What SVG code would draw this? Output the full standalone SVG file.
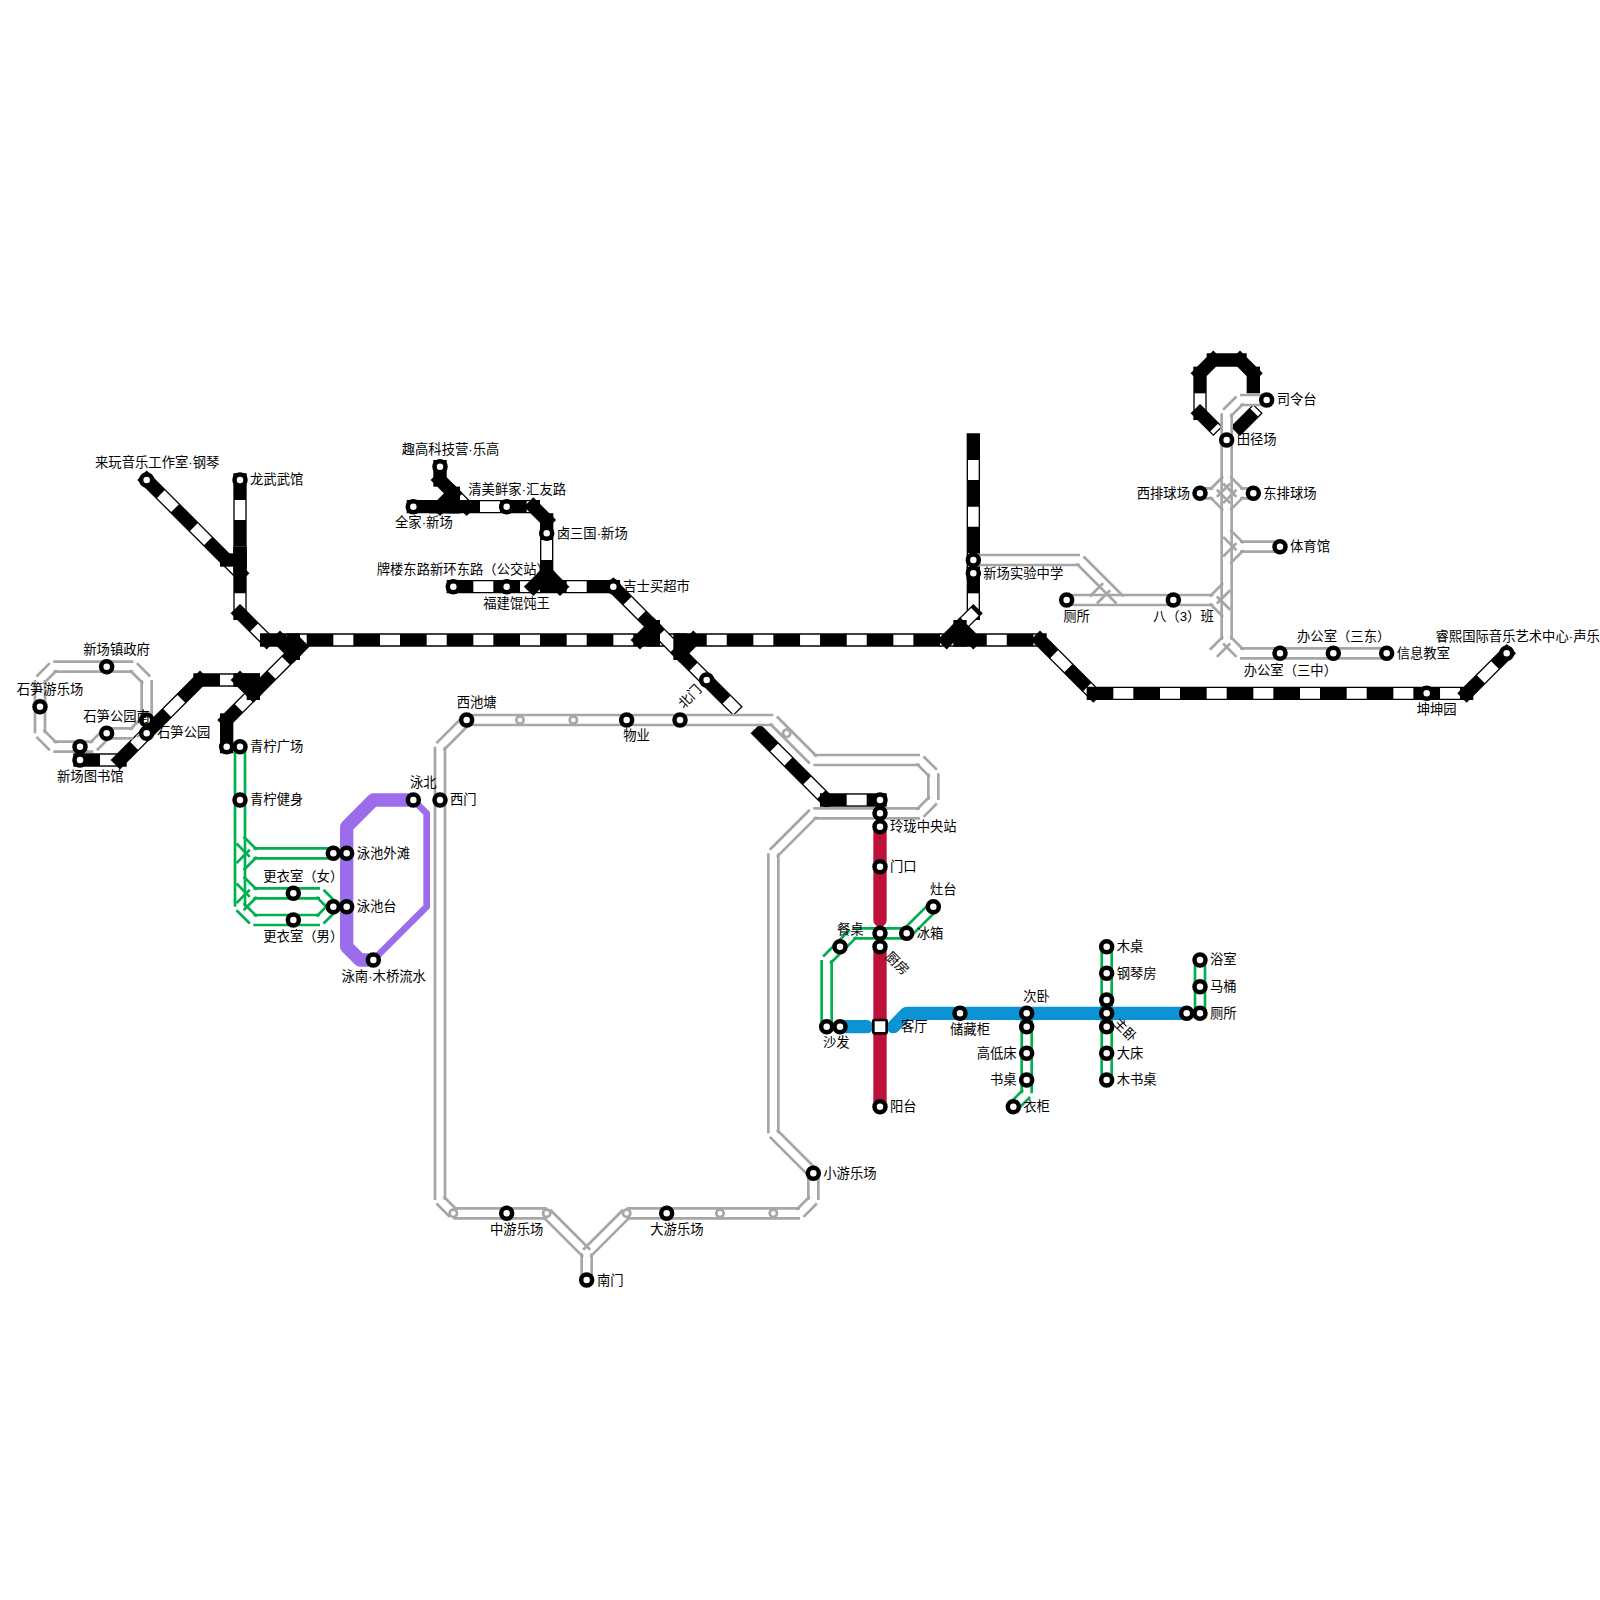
<svg xmlns="http://www.w3.org/2000/svg" width="1600" height="1600" viewBox="0 0 1600 1600">
<style>
path{fill:none}
.b{stroke:#000;stroke-width:13.33;stroke-linecap:square}
.w{stroke:#fff;stroke-width:10.67;stroke-dasharray:20 26.67;stroke-dashoffset:26.67}
.gy{stroke:#a6a6a6;stroke-width:2.67}
.gr{stroke:#00b050;stroke-width:2.67}
.th{stroke-width:13.33;stroke-linecap:round;stroke-linejoin:round}
circle{fill:#fff;stroke:#000;stroke-width:4.5}
.d{stroke:#a6a6a6;stroke-width:2.67}
.box{fill:#fff;stroke:#000;stroke-width:2.67}
text{font-family:"Liberation Sans","Noto Sans CJK SC",sans-serif;font-size:13.33px;fill:#000}
.m{text-anchor:middle}
</style>
<defs>
<g id="gH"><path d="M466.67 720H773.33M813.33 760H920M813.33 813.33H920M626.67 1213.33H800M453.33 1213.33H546.67M973.33 560H1080M1066.67 600H1213.33M1240 400H1266.67M1240 653.33H1386.67M1200 493.33H1213.33M1240 493.33H1253.33M1240 546.67H1280M53.33 666.67H133.33M106.67 733.33H133.33M53.33 746.67H93.33"/></g>
<g id="gV"><path d="M933.33 773.33V800M773.33 853.33V1133.33M813.33 1173.33V1200M586.67 1253.33V1280M440 746.67V1200M1226.67 413.33V640M146.67 680V720M40 680V733.33"/></g>
<g id="gD"><path d="M773.33 720L813.33 760M920 760L933.33 773.33M773.33 1133.33L813.33 1173.33M546.67 1213.33L586.67 1253.33M440 1200L453.33 1213.33M1080 560L1120 600M1213.33 600L1226.67 613.33M1226.67 640L1240 653.33M1213.33 493.33L1226.67 506.67M1226.67 480L1240 493.33M1226.67 533.33L1240 546.67M133.33 666.67L146.67 680M40 733.33L53.33 746.67"/></g>
<g id="gU"><path d="M920 813.33L933.33 800M773.33 853.33L813.33 813.33M800 1213.33L813.33 1200M586.67 1253.33L626.67 1213.33M440 746.67L466.67 720M1093.33 600L1106.67 586.67M1213.33 600L1226.67 586.67M1226.67 413.33L1240 400M1213.33 653.33L1226.67 640M1213.33 493.33L1226.67 480M1226.67 506.67L1240 493.33M1226.67 560L1240 546.67M40 680L53.33 666.67M133.33 733.33L146.67 720M93.33 746.67L106.67 733.33"/></g>
<g id="tH"><path d="M253.33 853.33H333.33M253.33 893.33H320M253.33 920H320M853.33 933.33H906.67"/></g>
<g id="tV"><path d="M240 746.67V906.67M826.67 960V1026.67M1026.67 1013.33V1093.33M1106.67 946.67V1080M1200 960V1013.33"/></g>
<g id="tD"><path d="M240 840L253.33 853.33M240 880L253.33 893.33M240 906.67L253.33 920M320 893.33L333.33 906.67"/></g>
<g id="tU"><path d="M240 866.67L253.33 853.33M240 906.67L253.33 893.33M320 920L333.33 906.67M906.67 933.33L933.33 906.67M826.67 960L853.33 933.33M1013.33 1106.67L1026.67 1093.33"/></g>
</defs>
<rect width="1600" height="1600" fill="#fff"/>
<g id="connectors">
<g id="rail-black">
<path class="b" d="M146.67 480L240 573.33"/><path class="w" d="M146.67 480L240 573.33"/>
<path class="b" d="M240 480V613.33"/><path class="w" d="M240 480V613.33"/>
<path class="b" d="M226.67 560H240"/><path class="b" d="M240 553.33V566.67"/>
<path class="b" d="M240 613.33L266.67 640"/><path class="w" d="M240 613.33L266.67 640"/>
<path class="b" d="M266.67 640H1040"/><path class="w" d="M266.67 640H1040"/>
<path class="b" d="M300 646.67L226.67 720"/><path class="w" d="M300 646.67L226.67 720"/>
<path class="b" d="M280 640L293.33 653.33"/><path class="b" d="M293.33 640V653.33"/>
<path class="b" d="M226.67 720V746.67"/>
<path class="b" d="M200 680H240"/><path class="w" d="M200 680H240"/>
<path class="b" d="M240 680L253.33 693.33"/><path class="b" d="M240 680H253.33"/><path class="b" d="M253.33 680V693.33"/>
<path class="b" d="M80 760H120"/><path class="w" d="M80 760H120"/>
<path class="b" d="M120 760L200 680"/><path class="w" d="M120 760L200 680"/>
<path class="b" d="M440 466.67V480"/>
<path class="b" d="M440 480L466.67 506.67"/><path class="w" d="M440 480L466.67 506.67"/>
<path class="b" d="M413.33 506.67H533.33"/><path class="w" d="M413.33 506.67H533.33"/>
<path class="b" d="M440 506.67L453.33 493.33"/><path class="b" d="M453.33 493.33V506.67"/><path class="b" d="M436 506.67H453.33"/>
<path class="b" d="M533.33 506.67L546.67 520"/>
<path class="b" d="M546.67 520V573.33"/><path class="w" d="M546.67 520V573.33"/>
<path class="b" d="M453.33 586.67H613.33"/><path class="w" d="M453.33 586.67H613.33"/>
<path class="b" d="M546.67 573.33L533.33 586.67"/><path class="b" d="M546.67 573.33L560 586.67"/>
<path class="b" d="M613.33 586.67L733.33 706.67"/><path class="w" d="M613.33 586.67L737.1 710.44"/>
<path class="b" d="M640 640L653.33 626.67"/><path class="b" d="M653.33 626.67V640"/>
<path class="b" d="M680 640V653.33"/><path class="b" d="M680 653.33L693.33 640"/>
<path class="b" d="M973.33 440V573.33"/><path class="w" d="M973.33 440V573.33"/>
<path class="b" d="M973.33 573.33V613.33"/><path class="w" d="M973.33 573.33V618.67"/>
<path class="b" d="M946.67 640L973.33 613.33"/><path class="w" d="M946.67 640L977.1 609.56"/>
<path class="b" d="M960 626.67V640"/><path class="b" d="M960 626.67L973.33 640"/>
<path class="b" d="M1040 640L1093.33 693.33"/><path class="w" d="M1040 640L1093.33 693.33"/>
<path class="b" d="M1093.33 693.33H1466.67"/><path class="w" d="M1093.33 693.33H1466.67"/>
<path class="b" d="M1466.67 693.33L1506.67 653.33"/><path class="w" d="M1466.67 693.33L1506.67 653.33"/>
<path class="b" d="M760 733.33L826.67 800"/><path class="w" d="M760 733.33L826.67 800"/>
<path class="b" d="M826.67 800H880"/><path class="w" d="M826.67 800H880"/>
<path class="b" d="M1200 373.33V413.33"/><path class="w" d="M1200 373.33V418.67"/>
<path class="b" d="M1200 413.33L1213.33 426.67"/><path class="w" d="M1200 413.33L1217.1 430.44"/>
<path class="b" d="M1200 373.33L1213.33 360"/>
<path class="b" d="M1213.33 360H1240"/>
<path class="b" d="M1240 360L1253.33 373.33"/>
<path class="b" d="M1253.33 373.33V386.67"/>
<path class="b" d="M1240 426.67L1253.33 413.33"/><path class="w" d="M1240 426.67L1257.1 409.56"/>
</g>
<g id="line-grey" class="gy">
<use href="#gH" y="-5"/><use href="#gH" y="5"/>
<use href="#gV" x="-5"/><use href="#gV" x="5"/>
<use href="#gD" x="3.54" y="-3.54"/><use href="#gD" x="-3.54" y="3.54"/>
<use href="#gU" x="3.54" y="3.54"/><use href="#gU" x="-3.54" y="-3.54"/>
</g>
<g id="line-green" class="gr">
<use href="#tH" y="-5"/><use href="#tH" y="5"/>
<use href="#tV" x="-5"/><use href="#tV" x="5"/>
<use href="#tD" x="3.54" y="-3.54"/><use href="#tD" x="-3.54" y="3.54"/>
<use href="#tU" x="3.54" y="3.54"/><use href="#tU" x="-3.54" y="-3.54"/>
</g>
<g id="line-purple">
<path class="th" stroke="#9b6cec" d="M413.33 800H373.33L346.67 826.67V946.67L360 960H373.33"/>
<path stroke="#9b6cec" stroke-width="6.67" stroke-linejoin="round" d="M413.33 800L426.67 813.33V906.67L373.33 960"/>
</g>
<g id="line-red">
<path class="th" stroke="#bc1239" d="M880 826.67V920"/>
<path class="th" stroke="#bc1239" stroke-linecap="butt" d="M880 946.67V1106.67"/>
</g>
<g id="line-blue">
<path class="th" stroke="#0b93d6" d="M840 1026.67H866.67"/>
<path class="th" stroke="#0b93d6" d="M893.33 1026.67L906.67 1013.33H1186.67"/>
</g>
</g>
<g id="dots">
<circle class="d" cx="520" cy="720" r="3.67"/><circle class="d" cx="573.33" cy="720" r="3.67"/><circle class="d" cx="786.67" cy="733.33" r="3.67"/><circle class="d" cx="773.33" cy="1213.33" r="3.67"/><circle class="d" cx="720" cy="1213.33" r="3.67"/><circle class="d" cx="626.67" cy="1213.33" r="3.67"/><circle class="d" cx="546.67" cy="1213.33" r="3.67"/><circle class="d" cx="453.33" cy="1213.33" r="3.67"/>
</g>
<g id="n1"><circle cx="146.67" cy="480" r="5.5"/><text x="95" y="467">来玩音乐工作室·钢琴</text></g>
<g id="n2"><circle cx="240" cy="480" r="5.5"/><text x="250" y="484">龙武武馆</text></g>
<g id="n3"><circle cx="106.67" cy="666.67" r="5.5"/><text x="83.3" y="654">新场镇政府</text></g>
<g id="n4"><circle cx="40" cy="706.67" r="5.5"/><text x="16.7" y="694">石笋游乐场</text></g>
<g id="n5"><circle cx="146.67" cy="720" r="5.5"/></g>
<g id="n6"><circle cx="146.67" cy="733.33" r="5.5"/><text x="157" y="737">石笋公园</text></g>
<g id="n7"><circle cx="106.67" cy="733.33" r="5.5"/><text x="83.3" y="721">石笋公园南</text></g>
<g id="n8"><circle cx="80" cy="746.67" r="5.5"/></g>
<g id="n9"><circle cx="80" cy="760" r="5.5"/><text x="57" y="781">新场图书馆</text></g>
<g id="n10"><circle cx="226.67" cy="746.67" r="5.5"/></g>
<g id="n11"><circle cx="240" cy="746.67" r="5.5"/><text x="250" y="751">青柠广场</text></g>
<g id="n12"><circle cx="240" cy="800" r="5.5"/><text x="250" y="804">青柠健身</text></g>
<g id="n13"><circle cx="333.33" cy="853.33" r="5.5"/></g>
<g id="n14"><circle cx="346.67" cy="853.33" r="5.5"/><text x="356.7" y="857.5">泳池外滩</text></g>
<g id="n15"><circle cx="293.33" cy="893.33" r="5.5"/><text x="263.3" y="881">更衣室（女）</text></g>
<g id="n16"><circle cx="293.33" cy="920" r="5.5"/><text x="263.3" y="941">更衣室（男）</text></g>
<g id="n17"><circle cx="333.33" cy="906.67" r="5.5"/></g>
<g id="n18"><circle cx="346.67" cy="906.67" r="5.5"/><text x="356.7" y="911">泳池台</text></g>
<g id="n19"><circle cx="413.33" cy="800" r="5.5"/><text x="410" y="787">泳北</text></g>
<g id="n20"><circle cx="440" cy="800" r="5.5"/><text x="450" y="804">西门</text></g>
<g id="n21"><circle cx="373.33" cy="960" r="5.5"/><text x="341.5" y="980.5">泳南·木桥流水</text></g>
<g id="n22"><circle cx="440" cy="466.67" r="5.5"/><text x="401.7" y="454">趣高科技营·乐高</text></g>
<g id="n23"><circle cx="413.33" cy="506.67" r="5.5"/><text x="395" y="527">全家·新场</text></g>
<g id="n24"><circle cx="506.67" cy="506.67" r="5.5"/><text x="468.3" y="494">清美鲜家·汇友路</text></g>
<g id="n25"><circle cx="546.67" cy="533.33" r="5.5"/><text x="556.7" y="537.5">卤三国·新场</text></g>
<g id="n26"><circle cx="453.33" cy="586.67" r="5.5"/><text x="376.7" y="574">牌楼东路新环东路（公交站）</text></g>
<g id="n27"><circle cx="506.67" cy="586.67" r="5.5"/><text x="483.3" y="608">福建馄饨王</text></g>
<g id="n28"><circle cx="613.33" cy="586.67" r="5.5"/><text x="623.3" y="590.5">吉士买超市</text></g>
<g id="n29"><circle cx="706.67" cy="680" r="5.5"/><text class="m" transform="rotate(-45 690 696.67)" x="690" y="701">北门</text></g>
<g id="n30"><circle cx="466.67" cy="720" r="5.5"/><text x="456.7" y="707">西池塘</text></g>
<g id="n31"><circle cx="626.67" cy="720" r="5.5"/><text x="623.3" y="740">物业</text></g>
<g id="n32"><circle cx="680" cy="720" r="5.5"/></g>
<g id="n33"><circle cx="880" cy="800" r="5.5"/></g>
<g id="n34"><circle cx="880" cy="813.33" r="5.5"/></g>
<g id="n35"><circle cx="880" cy="826.67" r="5.5"/><text x="890" y="831">玲珑中央站</text></g>
<g id="n36"><circle cx="880" cy="866.67" r="5.5"/><text x="890" y="871">门口</text></g>
<g id="n37"><circle cx="933.33" cy="906.67" r="5.5"/><text x="930" y="894">灶台</text></g>
<g id="n38"><circle cx="906.67" cy="933.33" r="5.5"/><text x="916.7" y="937.5">冰箱</text></g>
<g id="n39"><circle cx="840" cy="946.67" r="5.5"/><text x="837" y="934">餐桌</text></g>
<g id="n40"><circle cx="880" cy="933.33" r="5.5"/></g>
<g id="n41"><circle cx="880" cy="946.67" r="5.5"/><text class="m" transform="rotate(45 897.3 963.3)" x="897.3" y="968">厨房</text></g>
<g id="n42"><rect class="box" x="873.33" y="1020" width="13.33" height="13.33" rx="1"/><text x="901" y="1031">客厅</text></g>
<g id="n43"><circle cx="826.67" cy="1026.67" r="5.5"/></g>
<g id="n44"><circle cx="840" cy="1026.67" r="5.5"/><text x="823" y="1047">沙发</text></g>
<g id="n45"><circle cx="960" cy="1013.33" r="5.5"/><text x="950" y="1034">储藏柜</text></g>
<g id="n46"><circle cx="1026.67" cy="1013.33" r="5.5"/><text x="1023.3" y="1001">次卧</text></g>
<g id="n47"><circle cx="1026.67" cy="1026.67" r="5.5"/></g>
<g id="n48"><circle cx="1026.67" cy="1053.33" r="5.5"/><text x="976.7" y="1057.5">高低床</text></g>
<g id="n49"><circle cx="1026.67" cy="1080" r="5.5"/><text x="990" y="1084">书桌</text></g>
<g id="n50"><circle cx="1013.33" cy="1106.67" r="5.5"/><text x="1023.3" y="1111">衣柜</text></g>
<g id="n51"><circle cx="880" cy="1106.67" r="5.5"/><text x="890" y="1111">阳台</text></g>
<g id="n52"><circle cx="1106.67" cy="946.67" r="5.5"/><text x="1116.7" y="951">木桌</text></g>
<g id="n53"><circle cx="1106.67" cy="973.33" r="5.5"/><text x="1116.7" y="977.5">钢琴房</text></g>
<g id="n54"><circle cx="1106.67" cy="1000" r="5.5"/></g>
<g id="n55"><circle cx="1106.67" cy="1013.33" r="5.5"/></g>
<g id="n56"><circle cx="1106.67" cy="1026.67" r="5.5"/><text class="m" transform="rotate(45 1125 1030)" x="1125" y="1034.5">主卧</text></g>
<g id="n57"><circle cx="1106.67" cy="1053.33" r="5.5"/><text x="1116.7" y="1057.5">大床</text></g>
<g id="n58"><circle cx="1106.67" cy="1080" r="5.5"/><text x="1116.7" y="1084">木书桌</text></g>
<g id="n59"><circle cx="1186.67" cy="1013.33" r="5.5"/></g>
<g id="n60"><circle cx="1200" cy="1013.33" r="5.5"/><text x="1210" y="1017.5">厕所</text></g>
<g id="n61"><circle cx="1200" cy="986.67" r="5.5"/><text x="1210" y="991">马桶</text></g>
<g id="n62"><circle cx="1200" cy="960" r="5.5"/><text x="1210" y="964">浴室</text></g>
<g id="n63"><circle cx="1266.67" cy="400" r="5.5"/><text x="1276.7" y="404">司令台</text></g>
<g id="n64"><circle cx="1226.67" cy="440" r="5.5"/><text x="1236.7" y="444">田径场</text></g>
<g id="n65"><circle cx="1200" cy="493.33" r="5.5"/><text x="1136.7" y="497.5">西排球场</text></g>
<g id="n66"><circle cx="1253.33" cy="493.33" r="5.5"/><text x="1263.3" y="497.5">东排球场</text></g>
<g id="n67"><circle cx="1280" cy="546.67" r="5.5"/><text x="1290" y="551">体育馆</text></g>
<g id="n68"><circle cx="973.33" cy="560" r="5.5"/></g>
<g id="n69"><circle cx="973.33" cy="573.33" r="5.5"/><text x="983.3" y="577.5">新场实验中学</text></g>
<g id="n70"><circle cx="1066.67" cy="600" r="5.5"/><text x="1063.3" y="621">厕所</text></g>
<g id="n71"><circle cx="1173.33" cy="600" r="5.5"/><text x="1153" y="621">八（3）班</text></g>
<g id="n72"><circle cx="1280" cy="653.33" r="5.5"/><text x="1243.7" y="675">办公室（三中）</text></g>
<g id="n73"><circle cx="1333.33" cy="653.33" r="5.5"/><text x="1297" y="641">办公室（三东）</text></g>
<g id="n74"><circle cx="1386.67" cy="653.33" r="5.5"/><text x="1396.7" y="657.5">信息教室</text></g>
<g id="n75"><circle cx="1426.67" cy="693.33" r="5.5"/><text x="1416.7" y="714">坤坤园</text></g>
<g id="n76"><circle cx="1506.67" cy="653.33" r="5.5"/><text x="1435.5" y="641">睿熙国际音乐艺术中心·声乐</text></g>
<g id="n77"><circle cx="506.67" cy="1213.33" r="5.5"/><text x="490" y="1234">中游乐场</text></g>
<g id="n78"><circle cx="666.67" cy="1213.33" r="5.5"/><text x="650.3" y="1234">大游乐场</text></g>
<g id="n79"><circle cx="586.67" cy="1280" r="5.5"/><text x="597" y="1285">南门</text></g>
<g id="n80"><circle cx="813.33" cy="1173.33" r="5.5"/><text x="823.3" y="1177.5">小游乐场</text></g>
</svg>
